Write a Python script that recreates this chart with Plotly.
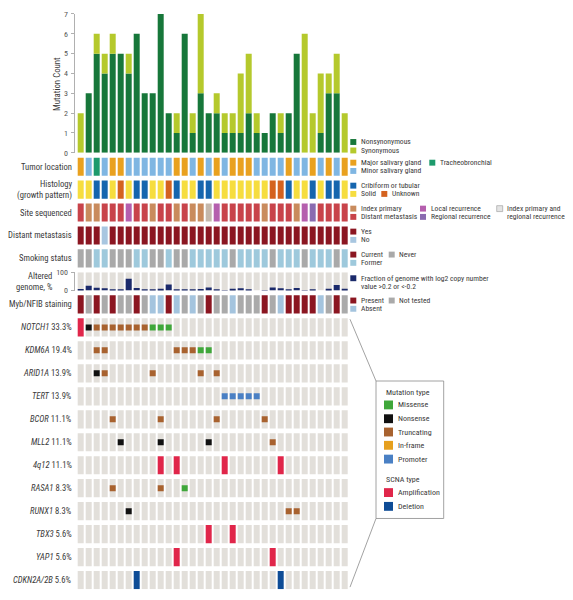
import plotly.graph_objects as go

# reference canvas is 573x600; the page places the figure 8px in from the top-left corner
W, H = 573, 600
OFF = 8
FW, FH = W - OFF, H - OFF
FONT = "Liberation Sans Narrow, Arial Narrow, Roboto Condensed, Roboto, sans-serif"
TXT = "#3a3a3a"

# ---------------- data ----------------
samples = [f"S{i:02d}" for i in range(1, 35)]
nonsynonymous = [0, 3, 5, 4, 5, 5, 4, 6, 3, 3, 7, 2, 1, 6, 1, 3, 2, 2, 1, 1, 1, 2, 1, 1, 2, 1, 2, 5, 0, 0, 1, 3, 3, 0]
synonymous    = [2, 0, 1, 1, 1, 0, 1, 0, 0, 0, 0, 0, 1, 0, 1, 4, 0, 1, 1, 1, 3, 3, 1, 0, 0, 1, 0, 0, 6, 2, 3, 1, 2, 2]

tumor_location = ["Major", "Minor", "Tracheo", "Minor", "Major", "Major", "Minor", "Minor", "Minor", "Minor",
                  "Minor", "Minor", "Major", "Major", "Minor", "Major", "Minor", "Major", "Minor", "Major",
                  "Major", "Major", "Minor", "Minor", "Minor", "Minor", "Major", "Minor", "Minor", "Major",
                  "Minor", "Major", "Minor", "Major"]
histology = ["Solid", "Solid", "Cribriform", "Cribriform", "Solid", "Unknown", "Solid", "Cribriform", "Cribriform", "Solid",
             "Solid", "Unknown", "Cribriform", "Solid", "Solid", "Cribriform", "Cribriform", "Solid", "Solid", "Solid",
             "Solid", "Solid", "Solid", "Solid", "Unknown", "Unknown", "Cribriform", "Solid", "Solid", "Cribriform",
             "Solid", "Cribriform", "Cribriform", "Solid"]
site_sequenced = ["Distant", "Index", "Index", "Distant", "Distant", "Distant", "Local", "Distant", "Distant", "Index",
                  "Distant", "Distant", "Index", "Distant", "Index", "Index", "IndexRegional", "Local", "Distant", "Distant",
                  "Distant", "Distant", "Distant", "Index", "Distant", "Distant", "Distant", "Index", "Local", "Regional",
                  "Distant", "Distant", "Distant", "Distant"]
distant_metastasis = ["Yes", "Yes", "Yes", "No"] + ["Yes"] * 30
smoking_status = ["Never", "Never", "Former", "Former", "Never", "Never", "Never", "Former", "Former", "Never",
                  "Never", "Former", "Never", "Never", "Former", "Former", "Former", "Former", "Former", "Never",
                  "Former", "Former", "Former", "Former", "Never", "Former", "Former", "Former", "Never", "Former",
                  "Former", "Former", "Never", "Former"]
altered_genome = [8, 26, 16, 12, 3, 7, 65, 14, 7, 7, 10, 33, 3, 5, 3, 8, 17, 2, 1, 10,
                  12, 7, 0, 1, 17, 12, 7, 14, 1, 5, 0, 10, 30, 10]
myb_nfib = ["Present", "NotTested", "Present", "NotTested", "Present", "NotTested", "NotTested", "Present", "NotTested", "Absent",
            "Absent", "Present", "Absent", "NotTested", "Absent", "NotTested", "Present", "NotTested", "NotTested", "Absent",
            "NotTested", "NotTested", "NotTested", "Present", "NotTested", "Absent", "Present", "Present", "Present", "Present",
            "Absent", "NotTested", "Present", "NotTested"]

# gene alterations, one character per sample:
# A amplification, D deletion, M missense, N nonsense, T truncating, I in-frame, P promoter, . none
genes = ["NOTCH1", "KDM6A", "ARID1A", "TERT", "BCOR", "MLL2", "4q12", "RASA1", "RUNX1", "TBX3", "YAP1", "CDKN2A/2B"]
gene_pct = ["33.3%", "19.4%", "13.9%", "13.9%", "11.1%", "11.1%", "11.1%", "8.3%", "8.3%", "5.6%", "5.6%", "5.6%"]
gene_events = [
    "ANTTTTTTTMMM......................",
    "..TT........TTTMM.................",
    "..NT.....T.....T.T................",
    "..................PPPPP...........",
    "....T.....T......T.....T..........",
    ".....N....N.....N.......T.........",
    "..........A.A.....A......A........",
    "....T.....T..M....................",
    "......N...................TT......",
    "................A..A..............",
    "............A...........A.........",
    ".......D.................D........",
]
for s in gene_events:
    assert len(s) == len(samples)

# ---------------- colours ----------------
C_NONSYN, C_SYN = "#17773a", "#b5c92c"
C_CELL = "#e2dfda"
loc_col = {"Major": "#e9a11f", "Minor": "#7fb6e2", "Tracheo": "#1d9a6c"}
hist_col = {"Cribriform": "#1565ae", "Solid": "#f6dd3f", "Unknown": "#d4621f"}
site_col = {"Index": "#c98b5d", "Distant": "#c8434a", "Local": "#b55fae", "Regional": "#8a6bb0",
            "IndexRegional": "#c4b8ac"}
met_col = {"Yes": "#8b1621", "No": "#a8c6e0"}
smoke_col = {"Current": "#8b1621", "Never": "#a9a9a9", "Former": "#9ec9dc"}
C_ALT = "#1b2a6b"
myb_col = {"Present": "#8b1621", "NotTested": "#aaaaaa", "Absent": "#a4c4de"}
mut_col = {"M": "#3fa73a", "N": "#111111", "T": "#a8622f", "I": "#e6a01e", "P": "#4a80c4"}
scna_col = {"A": "#e0264a", "D": "#0e4c96"}

# ---------------- geometry (in reference-page pixels) ----------------
def px(x):
    return (x - OFF) / FW

def py(y):
    return 1 - (y - OFF) / FH

X0, X1 = 76.7, 348.7
ROW_TOP0, ROW_STEP, ROW_H = 155.7, 23.33, 18.5
N_ROWS = 7 + len(genes)
GRID_BOTTOM = ROW_TOP0 + ROW_STEP * (N_ROWS - 1) + ROW_H
Y2_MAX = (GRID_BOTTOM - ROW_TOP0) / ROW_STEP
CELL = ROW_H / ROW_STEP

fig = go.Figure()

# mutation count bars
fig.add_trace(go.Bar(x=samples, y=nonsynonymous, marker=dict(color=C_NONSYN, line=dict(width=0)),
                     xaxis="x", yaxis="y", hoverinfo="skip"))
fig.add_trace(go.Bar(x=samples, y=synonymous, base=nonsynonymous, marker=dict(color=C_SYN, line=dict(width=0)),
                     xaxis="x", yaxis="y", hoverinfo="skip"))

def cell_row(i, colors):
    fig.add_trace(go.Bar(x=samples, y=[CELL] * len(samples), base=[i] * len(samples),
                         marker=dict(color=colors, line=dict(width=0)), xaxis="x2", yaxis="y2", hoverinfo="skip"))

cell_row(0, [loc_col[v] for v in tumor_location])
cell_row(1, [hist_col[v] for v in histology])
cell_row(2, [site_col[v] for v in site_sequenced])
cell_row(3, [met_col[v] for v in distant_metastasis])
cell_row(4, [smoke_col[v] for v in smoking_status])
# altered genome on its own 0-100 axis
fig.add_trace(go.Bar(x=samples, y=[100] * len(samples), marker=dict(color=C_CELL, line=dict(width=0)),
                     xaxis="x3", yaxis="y3", hoverinfo="skip"))
fig.add_trace(go.Bar(x=samples, y=altered_genome, marker=dict(color=C_ALT, line=dict(width=0)),
                     xaxis="x3", yaxis="y3", hoverinfo="skip"))
cell_row(6, [myb_col[v] for v in myb_nfib])

for g, ev in enumerate(gene_events):
    i = 7 + g
    cell_row(i, [scna_col.get(c, C_CELL) for c in ev])
    for code, colr in mut_col.items():
        xs = [samples[k] for k, c in enumerate(ev) if c == code]
        if xs:
            fig.add_trace(go.Scatter(x=xs, y=[i + CELL / 2] * len(xs), mode="markers",
                                     marker=dict(symbol="square", size=6, color=colr, line=dict(width=0)),
                                     xaxis="x2", yaxis="y2", hoverinfo="skip"))

# ---------------- labels ----------------
row_labels = ["Tumor location", "Histology<br>(growth pattern)", "Site sequenced", "Distant metastasis",
              "Smoking status", None, "Myb/NFIB staining"]
for g, name in enumerate(genes):
    row_labels.append(f"<i>{name}</i> {gene_pct[g]}")

LAB_FS = 8.6
annotations = []
for i, lab in enumerate(row_labels):
    if lab is None:
        continue
    annotations.append(dict(text=lab, xref="paper", yref="y2", x=px(73.5), y=i + CELL / 2,
                            xanchor="right", yanchor="middle", align="right", showarrow=False,
                            font=dict(family=FONT, size=LAB_FS, color=TXT)))
annotations.append(dict(text="Altered<br>genome, %", xref="paper", yref="paper", x=px(55),
                        y=py(ROW_TOP0 + 5 * ROW_STEP + ROW_H / 2), xanchor="right", yanchor="middle",
                        align="right", showarrow=False, font=dict(family=FONT, size=LAB_FS, color=TXT)))
annotations.append(dict(text="Mutation Count", xref="paper", yref="paper", x=px(57), y=py(81),
                        textangle=-90, xanchor="center", yanchor="middle", showarrow=False,
                        font=dict(family=FONT, size=8.8, color=TXT)))

shapes = []
LFS = 7.6

def legend_item(xs, yc, color, label, border=False):
    shapes.append(dict(type="rect", xref="paper", yref="paper", x0=px(xs), x1=px(xs + 6),
                       y0=py(yc + 3), y1=py(yc - 3), fillcolor=color,
                       line=dict(width=0.6 if border else 0, color="#999")))
    annotations.append(dict(text=label, xref="paper", yref="paper", x=px(xs + 8.5), y=py(yc),
                            xanchor="left", yanchor="middle", align="left", showarrow=False,
                            font=dict(family=FONT, size=LFS, color=TXT)))

def legend_text(xs, yc, label):
    annotations.append(dict(text=label, xref="paper", yref="paper", x=px(xs), y=py(yc),
                            xanchor="left", yanchor="middle", showarrow=False,
                            font=dict(family=FONT, size=LFS, color=TXT)))

def row_line(i, k):
    return ROW_TOP0 + i * ROW_STEP + 5.3 + 8.4 * k

LX = 350.3
legend_item(LX, 140, C_NONSYN, "Nonsynonymous")
legend_item(LX, 148.6, C_SYN, "Synonymous")
legend_item(LX, row_line(0, 0), loc_col["Major"], "Major salivary gland")
legend_item(LX, row_line(0, 1), loc_col["Minor"], "Minor salivary gland")
legend_item(429.3, row_line(0, 0), loc_col["Tracheo"], "Tracheobronchial")
legend_item(LX, row_line(1, 0), hist_col["Cribriform"], "Cribiform or tubular")
legend_item(LX, row_line(1, 1), hist_col["Solid"], "Solid")
legend_item(381.3, row_line(1, 1), hist_col["Unknown"], "Unknown")
legend_item(LX, row_line(2, 0), site_col["Index"], "Index primary")
legend_item(LX, row_line(2, 1), site_col["Distant"], "Distant metastasis")
legend_item(420, row_line(2, 0), site_col["Local"], "Local recurrence")
legend_item(420, row_line(2, 1), site_col["Regional"], "Regional recurrence")
legend_item(496.7, row_line(2, 0), "#e4e4e4", "Index primary and", border=True)
legend_text(505.2, row_line(2, 1), "regional recurrence")
legend_item(LX, row_line(3, 0), met_col["Yes"], "Yes")
legend_item(LX, row_line(3, 1), met_col["No"], "No")
legend_item(LX, row_line(4, 0), smoke_col["Current"], "Current")
legend_item(LX, row_line(4, 1), smoke_col["Former"], "Former")
legend_item(388.7, row_line(4, 0), smoke_col["Never"], "Never")
legend_item(LX, row_line(5, 0) + 0.7, C_ALT, "Fraction of genome with log2 copy number")
legend_text(LX + 8.5, row_line(5, 1) + 0.7, "value >0.2 or <-0.2")
legend_item(LX, row_line(6, 0), myb_col["Present"], "Present")
legend_item(LX, row_line(6, 1), myb_col["Absent"], "Absent")
legend_item(388.7, row_line(6, 0), myb_col["NotTested"], "Not tested")

# mutation type box with bracket lines
BX0, BX1, BY0, BY1 = 376, 443.7, 382.7, 522.3
shapes.append(dict(type="rect", xref="paper", yref="paper", x0=px(BX0), x1=px(BX1), y0=py(BY1), y1=py(BY0),
                   line=dict(color="#8a8a8a", width=0.8), fillcolor="rgba(0,0,0,0)"))
shapes.append(dict(type="line", xref="paper", yref="paper", x0=px(350), y0=py(320), x1=px(BX0), y1=py(BY0),
                   line=dict(color="#8a8a8a", width=0.8)))
shapes.append(dict(type="line", xref="paper", yref="paper", x0=px(BX0), y0=py(BY1), x1=px(350), y1=py(592),
                   line=dict(color="#8a8a8a", width=0.8)))

def box_title(yc, text):
    annotations.append(dict(text=text, xref="paper", yref="paper", x=px(384), y=py(yc), xanchor="left",
                            yanchor="middle", showarrow=False, font=dict(family=FONT, size=8, color=TXT)))

def box_item(yc, color, text):
    shapes.append(dict(type="rect", xref="paper", yref="paper", x0=px(384), x1=px(393), y0=py(yc + 4.5),
                       y1=py(yc - 4.5), fillcolor=color, line=dict(width=0)))
    annotations.append(dict(text=text, xref="paper", yref="paper", x=px(396), y=py(yc), xanchor="left",
                            yanchor="middle", showarrow=False, font=dict(family=FONT, size=8, color=TXT)))

box_title(394, "Mutation type")
box_item(407, mut_col["M"], "Missense")
box_item(421, mut_col["N"], "Nonsense")
box_item(434.5, mut_col["T"], "Truncating")
box_item(448, mut_col["I"], "In-frame")
box_item(462, mut_col["P"], "Promoter")
box_title(483, "SCNA type")
box_item(496, scna_col["A"], "Amplification")
box_item(510, scna_col["D"], "Deletion")

xcommon = dict(domain=[px(X0), px(X1)], type="category", categoryorder="array", categoryarray=samples,
               range=[-0.5, len(samples) - 0.5], visible=False, fixedrange=True)
tickfont = dict(family=FONT, size=8, color="#555")
yaxis_style = dict(anchor="free", position=px(73.5), showline=True, linecolor="#b0b0b0", linewidth=0.8,
                   ticks="outside", ticklen=3, tickwidth=0.8, tickcolor="#b0b0b0", showgrid=False,
                   zeroline=False, tickfont=tickfont, ticklabelstandoff=1)

fig.update_layout(
    width=FW, height=FH, margin=dict(l=0, r=0, t=0, b=0),
    paper_bgcolor="white", plot_bgcolor="white",
    barmode="overlay", bargap=0.25, showlegend=False,
    xaxis=dict(**xcommon, anchor="y"),
    xaxis2=dict(**xcommon, anchor="y2", matches="x"),
    xaxis3=dict(**xcommon, anchor="y3", matches="x"),
    yaxis=dict(domain=[py(151), py(10)], range=[0, 7], tickvals=list(range(8)), **yaxis_style),
    yaxis2=dict(domain=[py(GRID_BOTTOM), py(ROW_TOP0)], range=[Y2_MAX, 0], visible=False, anchor="x2"),
    yaxis3=dict(domain=[py(ROW_TOP0 + 5 * ROW_STEP + ROW_H), py(ROW_TOP0 + 5 * ROW_STEP)], range=[0, 100],
                tickvals=[0, 100], **yaxis_style),
    annotations=annotations, shapes=shapes,
)

fig.write_html("out.html")
